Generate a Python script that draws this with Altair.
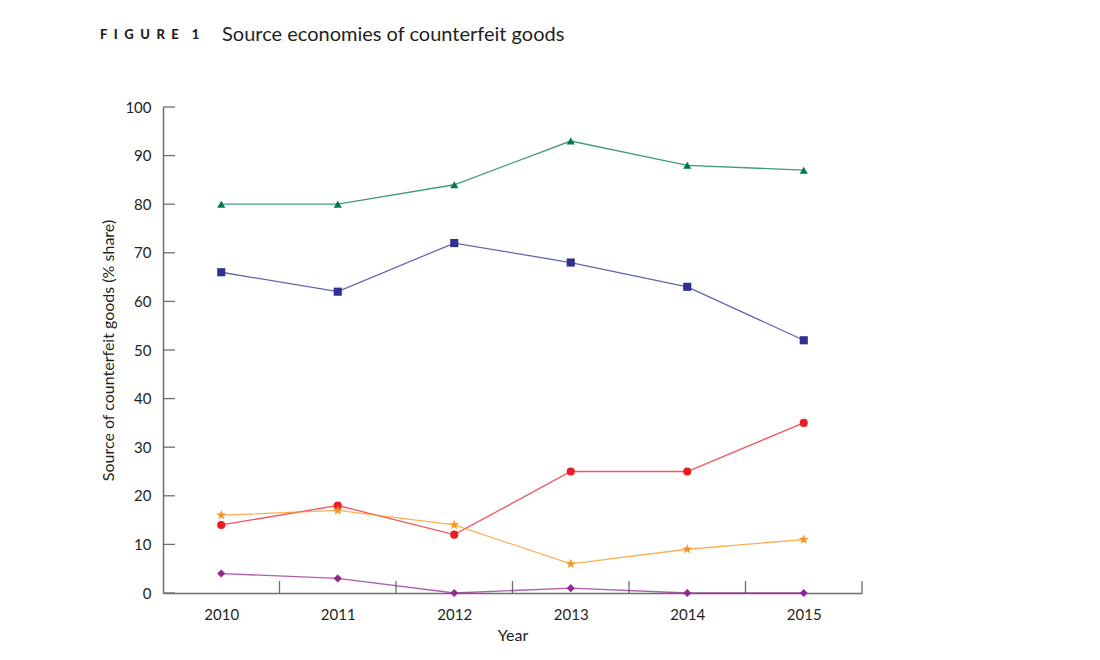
import altair as alt
import pandas as pd

years = [2010, 2011, 2012, 2013, 2014, 2015]
series_names = ["A", "B", "C", "D", "E"]
green_vals = [80, 80, 84, 93, 88, 87]
blue_vals = [66, 62, 72, 68, 63, 52]
red_vals = [14, 18, 12, 25, 25, 35]
orange_vals = [16, 17, 14, 6, 9, 11]
purple_vals = [4, 3, 0, 1, 0, 0]
y_ticks = [0, 10, 20, 30, 40, 50, 60, 70, 80, 90, 100]
x_boundaries = [2010.5, 2011.5, 2012.5, 2013.5, 2014.5, 2015.5]

colors = ["#00794F", "#2E3192", "#ED1C24", "#F7941D", "#92278F"]
star = "M0,-1.3L0.31,-0.42L1.24,-0.4L0.49,0.16L0.76,1.05L0,0.52L-0.76,1.05L-0.49,0.16L-1.24,-0.4L-0.31,-0.42Z"
shapes = ["triangle-up", "square", "circle", star, "diamond"]

rows = []
for name, vals in zip(series_names, [green_vals, blue_vals, red_vals, orange_vals, purple_vals]):
    for yr, v in zip(years, vals):
        rows.append({"year": yr, "series": name, "value": v})
df = pd.DataFrame(rows)

W, H = 699, 486
FONT = "Lato"

xscale = alt.Scale(domain=[2009.5, 2015.5], nice=False, zero=False)
yscale = alt.Scale(domain=[0, 100], nice=False)
cscale = alt.Scale(domain=series_names, range=colors)
sscale = alt.Scale(domain=series_names, range=shapes)

base = alt.Chart(df)

lines = base.mark_line(strokeWidth=1.3, strokeOpacity=0.75).encode(
    x=alt.X("year:Q", scale=xscale,
            axis=alt.Axis(values=years, format="d", tickSize=0, title="Year",
                          labelFontSize=15, labelPadding=14, labelColor="#231F20",
                          titleFontSize=16, titleFontWeight="normal", titleColor="#231F20",
                          titlePadding=5, domainColor="#6D6E71", domainWidth=1.5,
                          grid=False, labelFont=FONT, titleFont=FONT)),
    y=alt.Y("value:Q", scale=yscale,
            axis=alt.Axis(values=y_ticks, tickSize=0, title="Source of counterfeit goods (% share)",
                          labelFontSize=15, labelPadding=12, labelColor="#231F20",
                          titleFontSize=16, titleFontWeight="normal", titleColor="#231F20",
                          titleX=-55, titleY=H / 2, titleBaseline="middle",
                          domainColor="#6D6E71", domainWidth=1.5, grid=False,
                          labelFont=FONT, titleFont=FONT)),
    color=alt.Color("series:N", scale=cscale, legend=None),
    detail="series:N",
)

points = base.mark_point(filled=True, opacity=1, size=66).encode(
    x=alt.X("year:Q", scale=xscale),
    y=alt.Y("value:Q", scale=yscale),
    color=alt.Color("series:N", scale=cscale, legend=None),
    shape=alt.Shape("series:N", scale=sscale, legend=None),
)

yt = alt.Chart(pd.DataFrame({"v": y_ticks})).mark_rule(color="#6D6E71", strokeWidth=1.3).encode(
    y=alt.Y("v:Q", scale=yscale),
    x=alt.value(0), x2=alt.value(12),
)

xt = alt.Chart(pd.DataFrame({"b": x_boundaries})).mark_rule(color="#6D6E71", strokeWidth=1.3).encode(
    x=alt.X("b:Q", scale=xscale),
    y=alt.value(H), y2=alt.value(H - 12),
)

one = pd.DataFrame({"k": [0]})
fig_label = alt.Chart(one).mark_text(
    align="left", baseline="middle", font=FONT, fontSize=13, fontWeight=900, color="#231F20"
).encode(x=alt.value(-63), y=alt.value(-72), text=alt.value("F\u2002I\u2002G\u2002U\u2002R\u2002E\u2002\u20021"))

title_txt = alt.Chart(one).mark_text(
    align="left", baseline="middle", font=FONT, fontSize=20, color="#231F20"
).encode(x=alt.value(59), y=alt.value(-72), text=alt.value("Source economies of counterfeit goods"))

chart = alt.layer(yt, xt, lines, points, fig_label, title_txt).properties(
    width=W, height=H,
    background="white",
    autosize=alt.AutoSizeParams(type="none"),
    padding={"left": 155, "top": 99, "right": 230, "bottom": 50},
).configure_view(stroke=None, strokeWidth=0)

chart.save("out.html", embed_options={"renderer": "svg", "actions": False})
